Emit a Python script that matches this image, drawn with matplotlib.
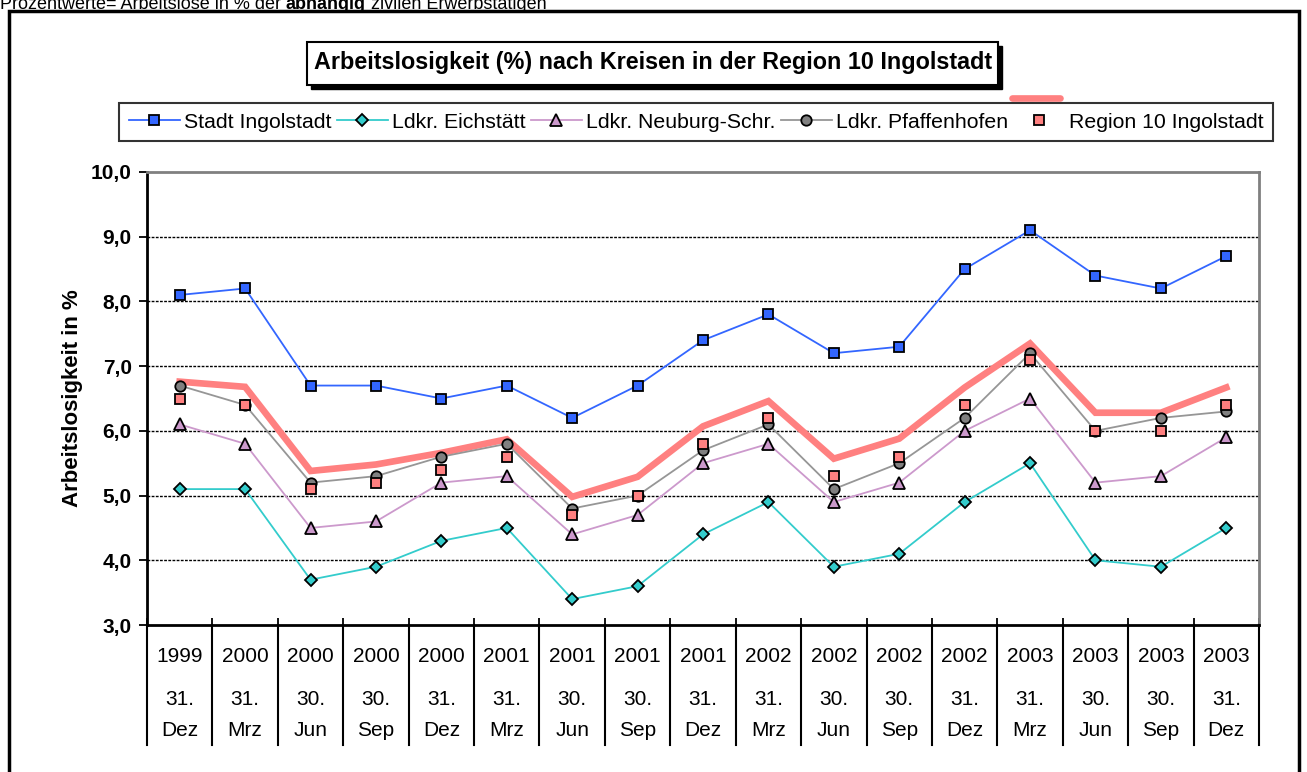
import matplotlib
matplotlib.use("Agg")
import matplotlib.pyplot as plt
from matplotlib.lines import Line2D
from matplotlib.patches import Rectangle

plt.rcParams['font.family'] = ['Liberation Sans', 'DejaVu Sans']

years = ["1999", "2000", "2000", "2000", "2000", "2001", "2001", "2001", "2001",
         "2002", "2002", "2002", "2002", "2003", "2003", "2003", "2003"]
days = ["31.", "31.", "30.", "30.", "31.", "31.", "30.", "30.", "31.",
        "31.", "30.", "30.", "31.", "31.", "30.", "30.", "31."]
months = ["Dez", "Mrz", "Jun", "Sep", "Dez", "Mrz", "Jun", "Sep", "Dez",
          "Mrz", "Jun", "Sep", "Dez", "Mrz", "Jun", "Sep", "Dez"]

stadt = [8.1, 8.2, 6.7, 6.7, 6.5, 6.7, 6.2, 6.7, 7.4, 7.8, 7.2, 7.3, 8.5, 9.1, 8.4, 8.2, 8.7]
eichstaett = [5.1, 5.1, 3.7, 3.9, 4.3, 4.5, 3.4, 3.6, 4.4, 4.9, 3.9, 4.1, 4.9, 5.5, 4.0, 3.9, 4.5]
neuburg = [6.1, 5.8, 4.5, 4.6, 5.2, 5.3, 4.4, 4.7, 5.5, 5.8, 4.9, 5.2, 6.0, 6.5, 5.2, 5.3, 5.9]
pfaffenhofen = [6.7, 6.4, 5.2, 5.3, 5.6, 5.8, 4.8, 5.0, 5.7, 6.1, 5.1, 5.5, 6.2, 7.2, 6.0, 6.2, 6.3]
region_markers = [6.5, 6.4, 5.1, 5.2, 5.4, 5.6, 4.7, 5.0, 5.8, 6.2, 5.3, 5.6, 6.4, 7.1, 6.0, 6.0, 6.4]
region_line = [6.76, 6.68, 5.38, 5.48, 5.66, 5.87, 4.98, 5.29, 6.07, 6.46, 5.57, 5.88, 6.67, 7.35, 6.28, 6.28, 6.67]

names = ["Stadt Ingolstadt", "Ldkr. Eichstätt", "Ldkr. Neuburg-Schr.",
         "Ldkr. Pfaffenhofen", "Region 10 Ingolstadt"]

header_parts = [("Prozentwerte= Arbeitslose in % der ", "normal"),
                ("abhängig", "bold"),
                (" zivilen Erwerbstätigen", "normal")]

W, H = 1307, 772
fig = plt.figure(figsize=(W / 100, H / 100), dpi=100)
fig.patch.set_facecolor("white")

def fx(px):
    return px / W

def fy(py):
    return 1 - py / H

ax = fig.add_axes([fx(147), fy(625), fx(1259) - fx(147), fy(172) - fy(625)])
x = list(range(len(years)))

ax.plot(x, region_line, color="#FF8080", lw=4.8, solid_joinstyle="miter", zorder=2)
h1, = ax.plot(x, stadt, color="#3366FF", lw=1.3, marker="s", ms=7.5, mfc="#3366FF",
              mec="black", mew=1.3, zorder=3)
h2, = ax.plot(x, eichstaett, color="#33CCCC", lw=1.3, marker="D", ms=6.5, mfc="#33CCCC",
              mec="black", mew=1.3, zorder=3)
h3, = ax.plot(x, neuburg, color="#CC99CC", lw=1.3, marker="^", ms=9, mfc="#CC99CC",
              mec="black", mew=1.3, zorder=3)
h4, = ax.plot(x, pfaffenhofen, color="#969696", lw=1.3, marker="o", ms=7.5, mfc="#808080",
              mec="black", mew=1.3, zorder=3)
h5, = ax.plot(x, region_markers, ls="none", marker="s", ms=7.5, mfc="#FF8080",
              mec="black", mew=1.3, zorder=4)

ax.set_xlim(-0.5, len(years) - 0.5)
ax.set_ylim(3, 10)
yt = [3, 4, 5, 6, 7, 8, 9, 10]
ax.set_yticks(yt)
ax.set_yticklabels([f"{v:.1f}".replace(".", ",") for v in yt], fontsize=15, fontweight="bold")
ax.tick_params(axis="y", direction="out", length=6, width=1.3, pad=5)
ax.set_xticks([i - 0.5 for i in range(len(years) + 1)])
ax.set_xticklabels([])
ax.tick_params(axis="x", direction="in", length=5, width=1.3)
for v in [4, 5, 6, 7, 8, 9]:
    ax.axhline(v, color="black", lw=1.0, ls=(0, (2, 1)), zorder=1)

ax.spines["left"].set_linewidth(2)
ax.spines["bottom"].set_linewidth(2)
ax.spines["top"].set_color("#808080")
ax.spines["right"].set_color("#808080")
ax.spines["top"].set_linewidth(2)
ax.spines["right"].set_linewidth(2)

tr = ax.get_xaxis_transform()
for i in x:
    ax.text(i, -0.069, years[i], transform=tr, ha="center", va="center", fontsize=15)
    ax.text(i, -0.165, days[i], transform=tr, ha="center", va="center", fontsize=15)
    ax.text(i, -0.232, months[i], transform=tr, ha="center", va="center", fontsize=15)
for i in range(len(years) + 1):
    ax.plot([i - 0.5, i - 0.5], [0, -0.265], transform=tr, color="black", lw=1.5,
            clip_on=False, zorder=5)

ax.set_ylabel("Arbeitslosigkeit in %", fontsize=16, fontweight="bold", labelpad=6)

# title box
fig.patches.append(Rectangle((fx(311), fy(89)), fx(1002) - fx(311), fy(46) - fy(89),
                             transform=fig.transFigure, facecolor="black",
                             edgecolor="black", zorder=1))
fig.patches.append(Rectangle((fx(307), fy(85)), fx(998) - fx(307), fy(42) - fy(85),
                             transform=fig.transFigure, facecolor="white",
                             edgecolor="black", lw=1.5, zorder=2))
fig.text(fx(653), fy(63), "Arbeitslosigkeit (%) nach Kreisen in der Region 10 Ingolstadt",
         ha="center", va="center", fontsize=16.8, fontweight="bold", zorder=3)

# legend
leg = fig.legend([h1, h2, h3, h4, h5], names, loc="center",
                 bbox_to_anchor=(fx(696), fy(122)), ncol=5, fontsize=15.3,
                 frameon=True, fancybox=False, edgecolor="black",
                 handlelength=2.4, handletextpad=0.2, columnspacing=0.25,
                 borderpad=0.45, borderaxespad=0)
leg.get_frame().set_linewidth(1.5)
fig.lines.append(Line2D([fx(1012), fx(1060)], [fy(98), fy(98)], transform=fig.transFigure,
                        color="#FF8080", lw=4.8, solid_capstyle="round", zorder=10))

# outer frame
fig.patches.append(Rectangle((fx(9), fy(790)), fx(1299) - fx(9), fy(11) - fy(790),
                             transform=fig.transFigure, facecolor="none",
                             edgecolor="black", lw=2.5, zorder=0))

# header text (partly cut off at top in the original)
renderer = fig.canvas.get_renderer()
cur = 0.0
for txt, wt in header_parts:
    t = fig.text(fx(cur), fy(9), txt, ha="left", va="baseline", fontsize=13,
                 fontweight=wt)
    bb = t.get_window_extent(renderer=renderer)
    cur += bb.width

fig.savefig("out.png", dpi=100, facecolor="white")
